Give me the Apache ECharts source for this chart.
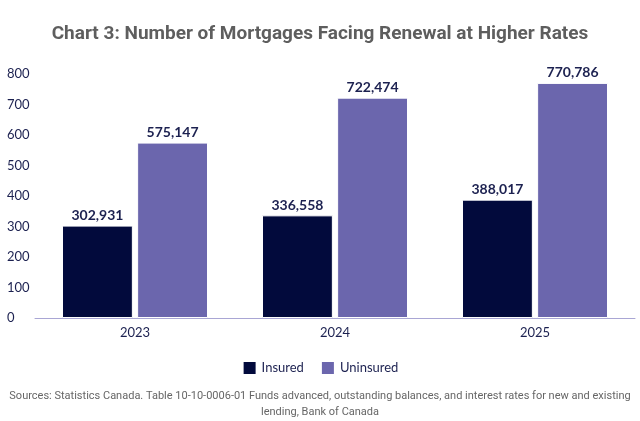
<!DOCTYPE html>
<html><head><meta charset="utf-8">
<script src="https://cdn.jsdelivr.net/npm/echarts@6/dist/echarts.min.js"></script>
<style>html,body{margin:0;padding:0;background:#fff}#c{width:640px;height:421px}</style>
</head><body><div id="c"></div>
<script>
const years = ['2023', '2024', '2025'];
const insured = [302931, 336558, 388017];
const uninsured = [575147, 722474, 770786];
const yTicks = [0, 100, 200, 300, 400, 500, 600, 700, 800];
const titleText = 'Chart 3: Number of Mortgages Facing Renewal at Higher Rates';
const sourceText = 'Sources: Statistics Canada. Table 10-10-0006-01 Funds advanced, outstanding balances, and interest rates for new and existing\nlending, Bank of Canada';

const navy = '#020a3c', purple = '#6b66ad', txt = '#1c2150';
const fmt = v => v.toLocaleString('en-US');
const chart = echarts.init(document.getElementById('c'));
chart.setOption({
  animation: false,
  title: {
    text: titleText, left: 'center', top: 20,
    textStyle: {fontFamily: 'Roboto', fontWeight: 'bold', fontSize: 19, color: '#5e5e5e'}
  },
  graphic: [{
    type: 'text', x: 320, y: 388,
    style: {text: sourceText, fontFamily: 'Roboto', fontSize: 11, fill: '#666',
      lineHeight: 16, align: 'center', verticalAlign: 'top'}
  }],
  legend: {
    bottom: 40, left: 'center', itemWidth: 14, itemHeight: 14, itemGap: 16,
    icon: 'rect',
    textStyle: {fontFamily: 'Lato', fontSize: 13, color: txt},
    data: ['Insured', 'Uninsured']
  },
  grid: {left: 35, right: 5, top: 74, bottom: 103},
  xAxis: {
    type: 'category', data: years,
    axisLine: {lineStyle: {color: '#a9a6d4'}},
    axisTick: {show: false},
    axisLabel: {fontFamily: 'Lato', fontSize: 13, color: txt, margin: 8}
  },
  yAxis: {
    type: 'value', min: 0, max: yTicks[yTicks.length - 1] * 1000, interval: 100000,
    splitLine: {show: false}, axisLine: {show: false}, axisTick: {show: false},
    axisLabel: {
      fontFamily: 'Lato', fontSize: 13, color: txt, align: 'left', margin: 28,
      formatter: v => String(v / 1000)
    }
  },
  series: [{
    name: 'Insured', type: 'bar', data: insured, barGap: '6%', barCategoryGap: '27%',
    itemStyle: {color: navy, borderColor: '#fff', borderWidth: 1},
    label: {show: true, position: 'top', distance: 3, formatter: p => fmt(p.value),
      fontFamily: 'Lato', fontWeight: 'bold', fontSize: 14, color: txt}
  }, {
    name: 'Uninsured', type: 'bar', data: uninsured,
    itemStyle: {color: purple, borderColor: '#fff', borderWidth: 1},
    label: {show: true, position: 'top', distance: 3, formatter: p => fmt(p.value),
      fontFamily: 'Lato', fontWeight: 'bold', fontSize: 14, color: txt}
  }]
});
</script></body></html>
